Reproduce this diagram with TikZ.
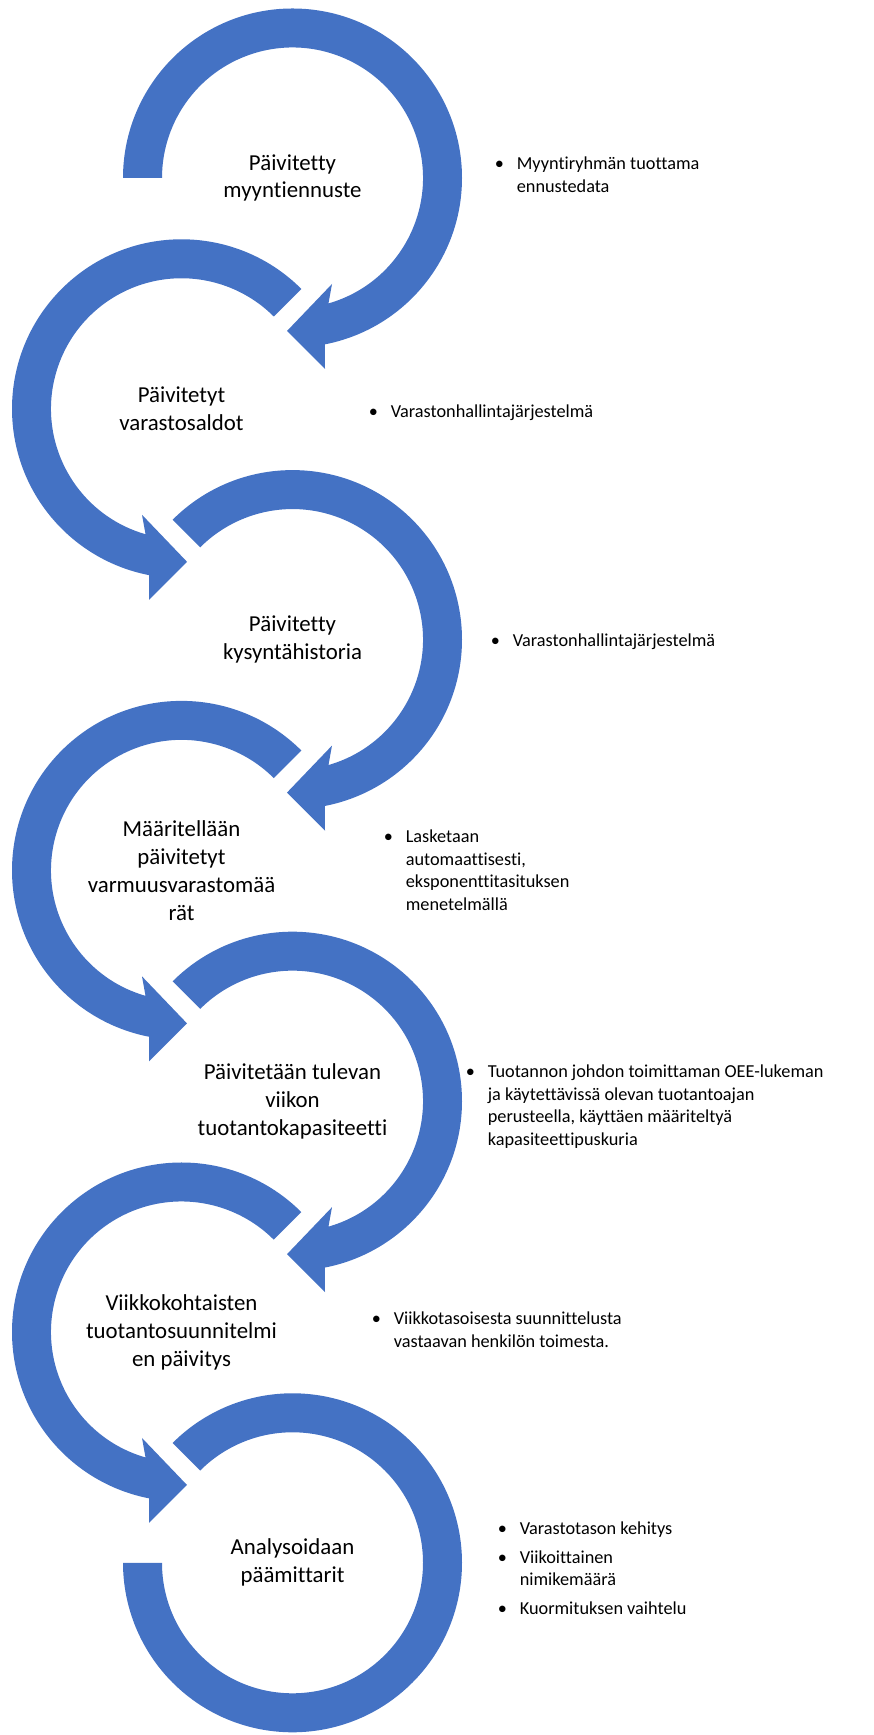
\documentclass[tikz,border=0pt]{standalone}
\usepackage{fontspec}
\setmainfont{Carlito}[Ligatures=NoCommon]
\usepackage{array}
\definecolor{arrowblue}{HTML}{4472C4}
\newcommand{\btab}[1]{\begin{tabular}[t]{@{}p{12.5pt}@{}l@{}}#1\end{tabular}}
\tikzset{
  ring/.style={fill=arrowblue, draw=none},
  lbl/.style={align=center, inner sep=0pt, font=\fontsize{13}{15.9}\selectfont},
  blt/.style={anchor=base west, inner sep=0pt, font=\fontsize{10.4}{12.8}\selectfont},
  oddring/.pic={
    \fill[ring] (#1:169.5) arc[start angle=#1, end angle=-79, radius=169.5]
      -- (32.5,-191) -- (-5.5,-153) -- (39.5,-106)
      -- (-74:130.5) arc[start angle=-74, end angle=#1, radius=130.5] -- cycle;
  },
  evenring/.pic={
    \fill[ring] (45:169.5) arc[start angle=45, end angle=259, radius=169.5]
      -- (-32.5,-191) -- (5.5,-153) -- (-39.5,-106)
      -- (254:130.5) arc[start angle=254, end angle=45, radius=130.5] -- cycle;
  },
}
\begin{document}
\begin{tikzpicture}[x=0.02cm,y=0.02cm]
\useasboundingbox (0,0) rectangle (874,1735);
% circle centres
\coordinate (c1) at (292.5,1557);
\coordinate (c2) at (181.5,1326.2);
\coordinate (c3) at (292.5,1095.4);
\coordinate (c4) at (181.5,864.6);
\coordinate (c5) at (292.5,633.8);
\coordinate (c6) at (181.5,403);
\coordinate (c7) at (292.5,172.2);
% rings
\pic at (c1) {oddring=180};
\pic at (c2) {evenring};
\pic at (c3) {oddring=135};
\pic at (c4) {evenring};
\pic at (c5) {oddring=135};
\pic at (c6) {evenring};
\begin{scope}[shift={(c7)}]
  \fill[ring] (135:169.5) arc[start angle=135, end angle=-180, radius=169.5]
    -- (180:130.5) arc[start angle=-180, end angle=135, radius=130.5] -- cycle;
\end{scope}
% labels
\node[lbl] (l1) at (c1) {Päivitetty\\myyntiennuste};
\node[lbl] (l2) at (c2) {Päivitetyt\\varastosaldot};
\node[lbl] (l3) at (c3) {Päivitetty\\kysyntähistoria};
\node[lbl] (l4) at (c4) {Määritellään\\päivitetyt\\varmuusvarastomää\\rät};
\node[lbl] (l5) at (c5) {Päivitetään tulevan\\viikon\\tuotantokapasiteetti};
\node[lbl] (l6) at (c6) {Viikkokohtaisten\\tuotantosuunnitelmi\\en päivitys};
\node[lbl] (l7) at (c7) {Analysoidaan\\päämittarit};
% bullet texts
\node[blt] (b1) at (494.5,1565) {\btab{\textbullet & Myyntiryhmän tuottama\\ & ennustedata}};
\node[blt] (b2) at (368.5,1317) {\btab{\textbullet & Varastonhallintajärjestelmä}};
\node[blt] (b3) at (490.5,1088) {\btab{\textbullet & Varastonhallintajärjestelmä}};
\node[blt] (b4) at (383.5,892) {\btab{\textbullet & Lasketaan\\ & automaattisesti,\\ & eksponenttitasituksen\\ & menetelmällä}};
\node[blt] (b5) at (465.5,657) {\btab{\textbullet & Tuotannon johdon toimittaman OEE-lukeman\\ & ja käytettävissä olevan tuotantoajan\\ & perusteella, käyttäen määriteltyä\\ & kapasiteettipuskuria}};
\node[blt] (b6) at (371.5,410) {\btab{\textbullet & Viikkotasoisesta suunnittelusta\\ & vastaavan henkilön toimesta.}};
\node[blt] (b7) at (497.5,200) {\btab{\textbullet & Varastotason kehitys\\[3.4pt] \textbullet & Viikoittainen\\ & nimikemäärä\\[3.4pt] \textbullet & Kuormituksen vaihtelu}};
\end{tikzpicture}
\end{document}
